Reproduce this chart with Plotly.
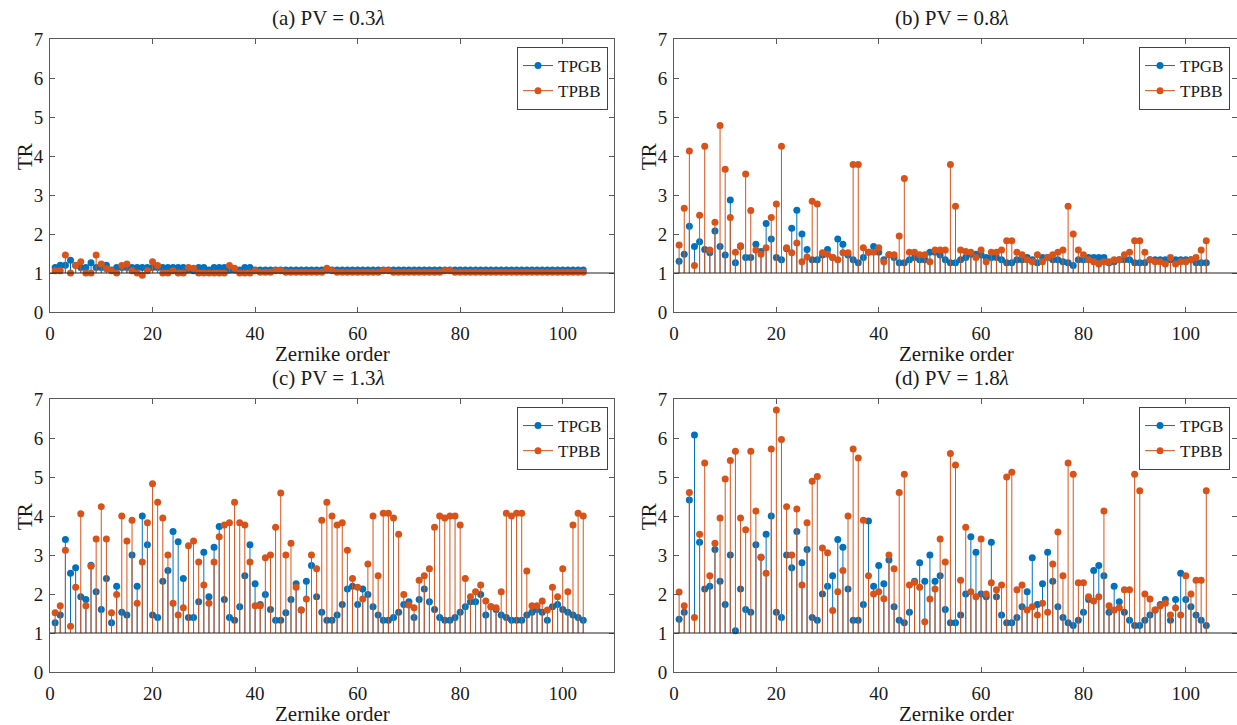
import plotly.graph_objects as go

orders = list(range(1, 105))

# Panel (a) PV = 0.3 lambda
tpgb_a = [1.14, 1.2, 1.2, 1.33, 1.2, 1.14, 1.14, 1.26, 1.14, 1.14,
          1.2, 1.08, 1.14, 1.14, 1.14, 1.14, 1.14, 1.14, 1.14, 1.14,
          1.14, 1.14, 1.14, 1.14, 1.14, 1.14, 1.08, 1.06, 1.14, 1.14,
          1.08, 1.14, 1.14, 1.14, 1.08, 1.08, 1.08, 1.14, 1.14, 1.08,
          1.08, 1.08, 1.08, 1.08, 1.08, 1.08, 1.08, 1.08, 1.08, 1.08,
          1.08, 1.08, 1.08, 1.08, 1.08, 1.08, 1.08, 1.08, 1.08, 1.08,
          1.08, 1.08, 1.08, 1.08, 1.08, 1.08, 1.08, 1.08, 1.08, 1.08,
          1.08, 1.08, 1.08, 1.08, 1.08, 1.08, 1.08, 1.08, 1.08, 1.08,
          1.08, 1.08, 1.08, 1.08, 1.08, 1.08, 1.08, 1.08, 1.08, 1.08,
          1.08, 1.08, 1.08, 1.08, 1.08, 1.08, 1.08, 1.08, 1.08, 1.08,
          1.08, 1.08, 1.08, 1.08]
tpbb_a = [1.06, 1.06, 1.46, 1.0, 1.19, 1.29, 1.0, 1.0, 1.46, 1.23,
          1.11, 1.06, 1.0, 1.19, 1.23, 1.06, 1.0, 0.94, 1.06, 1.29,
          1.19, 1.0, 1.0, 1.06, 1.0, 1.0, 1.14, 1.12, 1.0, 1.0,
          1.0, 1.0, 1.0, 1.0, 1.19, 1.12, 1.0, 1.0, 1.0, 1.06,
          1.02, 1.02, 1.02, 1.06, 1.06, 1.02, 1.02, 1.02, 1.02, 1.02,
          1.02, 1.02, 1.02, 1.12, 1.06, 1.02, 1.02, 1.02, 1.02, 1.02,
          1.02, 1.02, 1.02, 1.02, 1.06, 1.06, 1.02, 1.02, 1.02, 1.02,
          1.02, 1.02, 1.02, 1.02, 1.02, 1.02, 1.06, 1.06, 1.02, 1.02,
          1.02, 1.02, 1.02, 1.02, 1.02, 1.02, 1.02, 1.02, 1.02, 1.02,
          1.02, 1.02, 1.02, 1.02, 1.02, 1.02, 1.02, 1.02, 1.02, 1.02,
          1.02, 1.02, 1.02, 1.02]

# Panel (b) PV = 0.8 lambda
tpgb_b = [1.3, 1.48, 2.2, 1.68, 1.8, 1.6, 1.52, 2.08, 1.68, 1.46,
          2.87, 1.26, 1.68, 1.4, 1.4, 1.74, 1.55, 2.27, 1.87, 1.4,
          1.34, 1.62, 2.15, 2.61, 2.0, 1.6, 1.34, 1.34, 1.46, 1.6,
          1.4, 1.87, 1.74, 1.46, 1.34, 1.26, 1.4, 1.53, 1.68, 1.53,
          1.34, 1.47, 1.4, 1.26, 1.26, 1.34, 1.4, 1.34, 1.34, 1.53,
          1.53, 1.46, 1.34, 1.26, 1.26, 1.34, 1.4, 1.48, 1.48, 1.46,
          1.4, 1.4, 1.4, 1.34, 1.26, 1.26, 1.34, 1.34, 1.4, 1.34,
          1.26, 1.4, 1.4, 1.34, 1.34, 1.29, 1.26, 1.19, 1.34, 1.34,
          1.4, 1.4, 1.4, 1.4, 1.26, 1.29, 1.34, 1.34, 1.34, 1.26,
          1.26, 1.26, 1.34, 1.34, 1.34, 1.34, 1.34, 1.34, 1.34, 1.34,
          1.34, 1.26, 1.26, 1.26]
tpbb_b = [1.72, 2.66, 4.13, 1.19, 2.48, 4.25, 1.59, 2.3, 4.78, 3.66,
          2.42, 1.53, 1.7, 3.54, 2.6, 1.59, 1.48, 1.65, 2.42, 2.77,
          4.25, 1.65, 1.52, 1.77, 1.29, 1.41, 2.84, 2.77, 1.52, 1.48,
          1.4, 1.34, 1.52, 1.52, 3.78, 3.78, 1.65, 1.53, 1.53, 1.65,
          1.29, 1.47, 1.47, 1.95, 3.42, 1.53, 1.53, 1.47, 1.47, 1.29,
          1.59, 1.59, 1.59, 3.78, 2.71, 1.59, 1.55, 1.53, 1.4, 1.59,
          1.29, 1.53, 1.53, 1.59, 1.83, 1.83, 1.53, 1.47, 1.34, 1.29,
          1.47, 1.29, 1.4, 1.47, 1.53, 1.59, 2.71, 2.0, 1.59, 1.47,
          1.34, 1.29, 1.23, 1.29, 1.29, 1.34, 1.34, 1.47, 1.53, 1.83,
          1.83, 1.53, 1.34, 1.29, 1.29, 1.23, 1.4, 1.23, 1.29, 1.29,
          1.34, 1.4, 1.59, 1.83]

# Panel (c) PV = 1.3 lambda
tpgb_c = [1.26, 1.46, 3.4, 2.53, 2.67, 1.93, 1.86, 2.74, 2.06, 1.6,
          2.4, 1.26, 2.2, 1.53, 1.46, 3.0, 2.2, 4.0, 3.26, 1.46,
          1.4, 2.33, 2.6, 3.6, 3.34, 2.4, 1.4, 1.4, 1.8, 3.07,
          1.93, 3.2, 3.73, 1.86, 1.4, 1.33, 1.67, 2.47, 3.26, 2.26,
          1.73, 1.99, 1.6, 1.33, 1.33, 1.52, 1.86, 2.26, 1.59, 2.33,
          2.73, 1.93, 1.53, 1.33, 1.33, 1.46, 1.73, 2.13, 2.2, 1.73,
          2.13, 1.99, 1.67, 1.46, 1.33, 1.33, 1.4, 1.53, 1.73, 1.8,
          1.4, 1.86, 2.13, 1.8, 1.6, 1.4, 1.33, 1.33, 1.4, 1.53,
          1.67, 1.8, 1.8, 1.99, 1.46, 1.67, 1.6, 1.46, 1.4, 1.33,
          1.33, 1.33, 1.46, 1.53, 1.6, 1.53, 1.33, 1.67, 1.73, 1.6,
          1.53, 1.46, 1.4, 1.33]
tpbb_c = [1.52, 1.7, 3.12, 1.17, 2.17, 4.06, 1.7, 2.71, 3.41, 4.24,
          3.41, 1.52, 1.99, 4.0, 3.36, 3.89, 1.76, 2.82, 3.83, 4.83,
          4.35, 3.95, 3.0, 1.76, 1.46, 1.65, 3.24, 3.36, 2.82, 2.23,
          1.76, 2.82, 3.47, 3.77, 3.83, 4.35, 3.83, 3.77, 2.82, 1.7,
          1.7, 2.93, 3.0, 3.71, 4.59, 3.0, 3.3, 2.17, 1.59, 1.87,
          3.0, 2.65, 3.89, 4.35, 4.0, 3.77, 3.83, 3.12, 2.4, 2.17,
          1.87, 2.77, 4.0, 2.47, 4.07, 4.07, 3.95, 3.53, 1.99, 1.72,
          1.65, 2.35, 2.47, 2.65, 3.71, 4.0, 3.95, 4.0, 4.0, 3.77,
          2.4, 1.93, 2.06, 2.23, 1.82, 1.67, 1.65, 2.06, 4.07, 4.0,
          4.07, 4.07, 2.59, 1.7, 1.7, 1.82, 1.59, 2.17, 1.93, 2.65,
          2.06, 3.77, 4.07, 4.0]

# Panel (d) PV = 1.8 lambda
tpgb_d = [1.35, 1.53, 4.41, 6.08, 3.33, 2.13, 2.2, 3.14, 2.33, 1.73,
          3.0, 1.06, 2.13, 1.6, 1.53, 3.26, 2.94, 3.53, 4.0, 1.53,
          1.4, 3.0, 2.67, 3.6, 2.8, 3.14, 1.4, 1.33, 2.0, 2.2,
          2.47, 3.4, 3.2, 2.13, 1.33, 1.33, 1.73, 3.87, 2.2, 2.73,
          2.26, 2.87, 1.67, 1.33, 1.26, 1.53, 2.33, 2.8, 2.33, 3.0,
          2.33, 2.47, 1.6, 1.26, 1.26, 1.46, 2.0, 3.47, 3.07, 2.0,
          1.93, 3.33, 1.93, 1.46, 1.26, 1.26, 1.4, 1.67, 2.06, 2.93,
          1.73, 2.26, 3.07, 2.33, 1.67, 1.4, 1.26, 1.19, 1.33, 1.53,
          1.86, 2.6, 2.73, 2.47, 1.53, 2.2, 1.8, 1.53, 1.33, 1.19,
          1.19, 1.33, 1.46, 1.59, 1.73, 1.86, 1.33, 1.86, 2.53, 1.86,
          1.67, 1.46, 1.33, 1.19]
tpbb_d = [2.05, 1.7, 4.6, 1.4, 3.53, 5.36, 2.47, 3.3, 3.95, 4.95,
          5.42, 5.66, 3.95, 3.65, 5.66, 4.13, 2.94, 2.53, 5.72, 6.72,
          5.96, 4.24, 3.0, 4.18, 2.23, 3.83, 4.89, 5.01, 3.18, 3.06,
          1.58, 2.06, 2.6, 4.0, 5.72, 5.49, 3.89, 2.47, 2.0, 2.06,
          1.88, 3.0, 2.65, 4.6, 5.07, 2.23, 2.3, 2.17, 1.29, 1.87,
          2.13, 3.41, 2.82, 5.6, 5.31, 2.35, 3.71, 2.06, 1.93, 3.41,
          2.0, 2.29, 2.11, 2.23, 5.0, 5.12, 2.11, 2.23, 1.59, 1.67,
          1.46, 1.76, 1.53, 2.77, 3.59, 2.47, 5.36, 5.07, 2.29, 2.29,
          1.93, 1.82, 1.93, 4.13, 1.7, 1.59, 1.65, 2.11, 2.11, 5.07,
          4.65, 2.0, 1.87, 1.59, 1.7, 1.76, 1.46, 1.65, 1.46, 2.47,
          2.0, 2.35, 2.35, 4.65]

titles = ["(a) PV = 0.3<i>λ</i>", "(b) PV = 0.8<i>λ</i>",
          "(c) PV = 1.3<i>λ</i>", "(d) PV = 1.8<i>λ</i>"]
series_names = ["TPGB", "TPBB"]
x_ticks = [0, 20, 40, 60, 80, 100]
y_ticks = [0, 1, 2, 3, 4, 5, 6, 7]
base_value = 1

panels = [(tpgb_a, tpbb_a), (tpgb_b, tpbb_b), (tpgb_c, tpbb_c), (tpgb_d, tpbb_d)]

W, H = 1237, 725
FAM = "Liberation Serif, Times New Roman, serif"
TXT = "#1a1a1a"
BLUE = "#0072BD"
ORANGE = "#D95319"
AX = "#5a5a5a"

# pixel geometry of the four axes boxes (left, right, top, bottom)
boxes = [(50, 614, 39, 312), (674, 1238, 39, 312),
         (50, 614, 399, 672), (674, 1238, 399, 672)]

fig = go.Figure()

for k, (blue_vals, orange_vals) in enumerate(panels):
    xa = "x" if k == 0 else f"x{k+1}"
    ya = "y" if k == 0 else f"y{k+1}"
    lg = "legend" if k == 0 else f"legend{k+1}"
    for name, vals, col in [(series_names[0], blue_vals, BLUE),
                            (series_names[1], orange_vals, ORANGE)]:
        sx, sy = [], []
        for o, v in zip(orders, vals):
            sx += [o, o, None]
            sy += [base_value, v, None]
        fig.add_trace(go.Scatter(x=sx, y=sy, mode="lines",
                                 line=dict(color=col, width=1),
                                 xaxis=xa, yaxis=ya, showlegend=False,
                                 hoverinfo="skip"))
        fig.add_trace(go.Scatter(x=orders, y=vals, mode="markers",
                                 marker=dict(color=col, size=7),
                                 xaxis=xa, yaxis=ya, showlegend=False,
                                 name=name))
        fig.add_trace(go.Scatter(x=[None], y=[None], mode="lines+markers",
                                 line=dict(color=col, width=1),
                                 marker=dict(color=col, size=7),
                                 xaxis=xa, yaxis=ya, name=name,
                                 legend=lg, showlegend=True))

layout = dict(width=W, height=H,
              margin=dict(l=0, r=0, t=0, b=0, autoexpand=False),
              paper_bgcolor="white", plot_bgcolor="white",
              font=dict(family=FAM, size=19, color=TXT),
              annotations=[], shapes=[])

for k, (l, r, t, b) in enumerate(boxes):
    sfx = "" if k == 0 else str(k + 1)
    xd = [l / W, min(r / W, 1.0)]
    yd = [1 - b / H, 1 - t / H]
    common = dict(ticks="inside", ticklen=5, tickcolor=AX, showline=True,
                  linecolor=AX, linewidth=1, mirror="ticks", showgrid=False,
                  zeroline=False, automargin=False,
                  tickfont=dict(family=FAM, size=19, color=TXT))
    layout["xaxis" + sfx] = dict(domain=xd, range=[0, 110], tickvals=x_ticks,
                                 anchor="y" + sfx, ticklabelstandoff=4,
                                 **common)
    layout["yaxis" + sfx] = dict(domain=yd, range=[0, 7], tickvals=y_ticks,
                                 anchor="x" + sfx, ticklabelstandoff=2,
                                 **common)
    # baseline at TR = 1
    layout["shapes"].append(dict(type="line", xref="x" + sfx + " domain",
                                 yref="y" + sfx, x0=0, x1=1,
                                 y0=base_value, y1=base_value,
                                 line=dict(color="#222222", width=1)))
    cx = (l + r) / 2
    layout["annotations"].append(dict(
        text=titles[k], x=(cx - 4) / W, y=1 - (t - 21) / H, xref="paper",
        yref="paper", showarrow=False, xanchor="center", yanchor="middle",
        borderpad=0, font=dict(family=FAM, size=21, color=TXT)))
    layout["annotations"].append(dict(
        text="Zernike order", x=cx / W, y=1 - (b + 42) / H, xref="paper",
        yref="paper", showarrow=False, xanchor="center", yanchor="middle",
        borderpad=0, font=dict(family=FAM, size=21, color=TXT)))
    layout["annotations"].append(dict(
        text="TR", x=(l - 25) / W, y=1 - (t + 118) / H, xref="paper",
        yref="paper", showarrow=False, xanchor="center", yanchor="middle",
        borderpad=0, textangle=-90, font=dict(family=FAM, size=21, color=TXT)))
    lgkey = "legend" if k == 0 else f"legend{k+1}"
    lg_right = 608 if k % 2 == 0 else 1230
    layout[lgkey] = dict(x=lg_right / W, y=1 - (t + 8) / H, xanchor="right",
                         yanchor="top", xref="paper", yref="paper",
                         bgcolor="white", bordercolor="#444444", borderwidth=1,
                         font=dict(family=FAM, size=17, color=TXT),
                         tracegroupgap=0, itemwidth=30)

fig.update_layout(**layout)
fig.write_html("out.html", config={"displayModeBar": False},
               post_script="document.body.style.margin='0';"
                           "document.body.style.overflow='hidden';")
